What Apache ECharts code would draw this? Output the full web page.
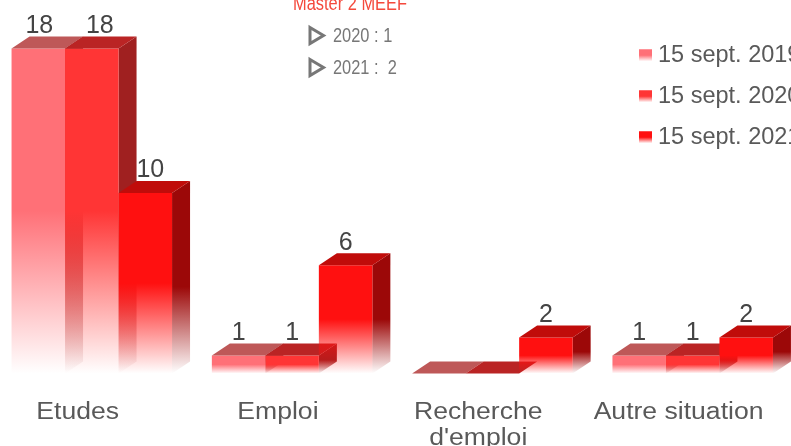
<!DOCTYPE html>
<html><head><meta charset="utf-8">
<style>html,body{margin:0;padding:0;background:#fff;overflow:hidden}#c{width:791px;height:446px}</style>
<script src="https://cdn.jsdelivr.net/npm/echarts@6/dist/echarts.min.js"></script>
</head><body><div id="c"></div>
<script>
const categories = ['Etudes', 'Emploi', "Recherche\nd'emploi", 'Autre situation'];
const seriesNames = ['15 sept. 2019', '15 sept. 2020', '15 sept. 2021'];
const values2019 = [18, 1, 0, 1];
const values2020 = [18, 1, 0, 1];
const values2021 = [10, 6, 2, 2];
const noteTitle = 'Master 2 MEEF';
const noteLines = ['2020 : 1', '2021 :  2'];

const allValues = [values2019, values2020, values2021];
const FONT = '"Liberation Sans", Arial, sans-serif';
const palette = [
  {front: [255,112,119], top: 'rgba(190,88,88,1)',  side: [160,64,64]},
  {front: [255,53,53],   top: 'rgba(186,36,36,1)',  side: [160,32,32]},
  {front: [255,16,16],   top: 'rgba(192,12,10,1)',  side: [156,8,8]}
];
function fade(c, solid) {
  return {type:'linear',x:0,y:0,x2:0,y2:1,colorStops:[
    {offset:0,color:`rgba(${c},1)`},
    {offset:solid,color:`rgba(${c},1)`},
    {offset:1,color:`rgba(${c},0)`}
  ]};
}
const BAR_W = 53.5, DX = 18, DY = 12, LEFT = -66.6;
// small label nudges seen in the first group
const nudge = [[1,0,0,0],[8,0,0,0],[5,0,0,0]];

function barSeries(k) {
  const p = palette[k];
  return {
    name: seriesNames[k], type:'custom', z: 2 + k,
    encode:{x:0,y:1},
    data: allValues[k].map((v,i)=>[i,v]),
    renderItem(params, api) {
      const i = api.value(0), v = api.value(1);
      const base = api.coord([i,0]), top = api.coord([i,v]);
      const x0 = base[0] + LEFT + k*BAR_W, x1 = x0 + BAR_W;
      const yb = base[1], yt = top[1];
      const children = [];
      if (v > 0) {
        children.push({type:'polygon',shape:{points:[[x1,yt],[x1+DX,yt-DY],[x1+DX,yb-DY],[x1,yb]]},
          style:{fill:fade(p.side.join(','),0.55)}});
        children.push({type:'rect',shape:{x:x0,y:yt,width:BAR_W,height:yb-yt},
          style:{fill:fade(p.front.join(','),0.5)}});
      }
      children.push({type:'polygon',shape:{points:[[x0,yt],[x0+DX,yt-DY],[x1+DX,yt-DY],[x1,yt]]},
        style:{fill:p.top}});
      return {type:'group',children};
    }
  };
}
const valueLabels = {
  type:'custom', name:'valueLabels', z:10, silent:true, encode:{x:0,y:1},
  data: allValues.flatMap((a,k)=>a.map((v,i)=>[i,v,k])),
  renderItem(params, api) {
    const i = api.value(0), v = api.value(1), k = api.value(2);
    if (!v) return {type:'group',children:[]};
    const c = api.coord([i,v]);
    return {type:'text',x:c[0]+LEFT+k*BAR_W+BAR_W/2+nudge[k][i],y:c[1]-10,
      style:{text:String(v),fill:'#444',font:`25px ${FONT}`,textAlign:'center',verticalAlign:'bottom'}};
  }
};
const catLabels = {
  type:'custom', name:'catLabels', z:10, silent:true, encode:{x:0,y:1},
  data: categories.map((c,i)=>[i,0]),
  renderItem(params, api) {
    const i = api.value(0), c = api.coord([i,0]);
    return {type:'text',x:c[0]-0.5,y:c[1]+26.5,scaleX:1.155,
      style:{text:categories[i],fill:'#595959',font:`23px ${FONT}`,lineHeight:26,textAlign:'center',verticalAlign:'top'}};
  }
};
const triangle = y => ({type:'polygon',shape:{points:[[310,y-0.5],[323.5,y+7.5],[310,y+15.5]]},
  style:{fill:'transparent',stroke:'#777',lineWidth:3,lineJoin:'miter'}});
const noteText = (t,y,fill,x,align) => ({type:'text',x,y,scaleX:0.82,
  style:{text:t,fill,font:`20px ${FONT}`,textAlign:align,verticalAlign:'top'}});

const chart = echarts.init(document.getElementById('c'),null,{renderer:'canvas'});
chart.setOption({
  animation:false,
  backgroundColor:'#fff',
  grid:{left:-22,width:801.2,top:48.5,height:325,containLabel:false,outerBoundsMode:'none'},
  xAxis:{type:'category',data:categories,axisLine:{show:false},axisTick:{show:false},axisLabel:{show:false},splitLine:{show:false}},
  yAxis:{type:'value',min:0,max:18,show:false},
  legend:{
    orient:'vertical',left:639,top:42,padding:0,itemWidth:13,itemHeight:12,itemGap:14.5,
    selectedMode:false,icon:'rect',
    textStyle:{color:'#595959',fontFamily:FONT,fontSize:23.5,lineHeight:26.5,padding:[0,0,0,1]},
    data:seriesNames.map((n,k)=>({name:n,itemStyle:{color:fade(palette[k].front.join(','),0.5)}}))
  },
  series:[barSeries(0),barSeries(1),barSeries(2),valueLabels,catLabels],
  graphic:[
    noteText(noteTitle,-6,'#f4493c',350,'center'),
    triangle(28),triangle(60),
    noteText(noteLines[0],26,'#777',333,'left'),
    noteText(noteLines[1],58,'#777',333,'left')
  ]
});
</script></body></html>
